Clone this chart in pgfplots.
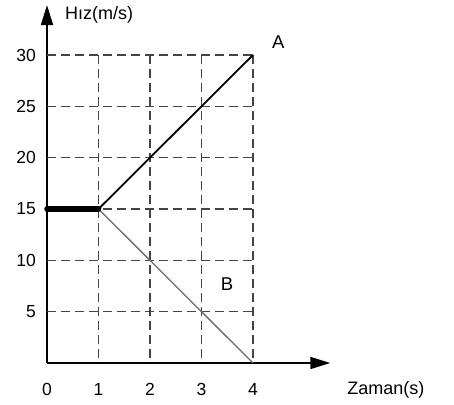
\documentclass[border=0pt]{standalone}
\usepackage{pgfplots}
\pgfplotsset{compat=1.18}
\usepackage{fontspec}
\setmainfont{Liberation Sans}
\usetikzlibrary{arrows.meta}
\definecolor{gridc}{HTML}{444444}
\definecolor{lineb}{HTML}{6A6A6A}
\begin{document}
\begin{tikzpicture}
\begin{axis}[
  at={(0,0)}, anchor=south west,
  scale only axis, width=283.25pt, height=357.9pt,
  xmin=0, xmax=5.5, ymin=0, ymax=34.86,
  clip=false,
  axis lines=left,
  axis line style={line width=1.9pt, -{Triangle[length=20pt,width=12pt]}},
  xtick={0,1,2,3,4}, ytick={5,10,15,20,25,30},
  major tick length=0pt,
  /pgf/number format/assume math mode=true,
  tick label style={font=\fontsize{17.5pt}{20pt}\selectfont, inner sep=0pt},
  xticklabel style={anchor=center, yshift=-26pt},
  yticklabel style={anchor=east, xshift=-11pt},
]
% grid (limited to the data region)
\addplot[gridc, line width=1.3pt, dash pattern=on 9pt off 5pt] coordinates {(0,5) (4,5)};
\addplot[gridc, line width=1.3pt, dash pattern=on 9pt off 5pt] coordinates {(0,10) (4,10)};
\addplot[gridc, line width=1.3pt, dash pattern=on 9pt off 5pt] coordinates {(0,15) (4,15)};
\addplot[gridc, line width=1.3pt, dash pattern=on 9pt off 5pt] coordinates {(0,20) (4,20)};
\addplot[gridc, line width=1.3pt, dash pattern=on 9pt off 5pt] coordinates {(0,25) (4,25)};
\addplot[gridc, line width=1.3pt, dash pattern=on 9pt off 5pt] coordinates {(0,30) (4,30)};
\addplot[gridc, line width=1.3pt, dash pattern=on 9pt off 5pt] coordinates {(1,30) (1,0)};
\addplot[gridc, line width=1.3pt, dash pattern=on 9pt off 5pt] coordinates {(2,30) (2,0)};
\addplot[gridc, line width=1.3pt, dash pattern=on 9pt off 5pt] coordinates {(3,30) (3,0)};
\addplot[gridc, line width=1.3pt, dash pattern=on 9pt off 5pt] coordinates {(4,30) (4,0)};
% series
\addplot[lineb, line width=1.3pt] coordinates {(1,15) (4,0)};
\addplot[black, line width=1.8pt] coordinates {(1,15) (4,30)};
\addplot[black, line width=5.5pt, line cap=round] coordinates {(0,15) (1,15)};
% labels
\node[font=\fontsize{18pt}{20pt}\selectfont, anchor=west, inner sep=0pt] at (axis cs:0.35,33.9) {Hız(m/s)};
\node[font=\fontsize{18pt}{20pt}\selectfont, anchor=west, inner sep=0pt] at (axis cs:5.83,-2.63) {Zaman(s)};
\node[font=\fontsize{18.5pt}{20pt}\selectfont, inner sep=0pt] at (axis cs:4.49,31.26) {A};
\node[font=\fontsize{18.5pt}{20pt}\selectfont, inner sep=0pt] at (axis cs:3.495,7.69) {B};
\end{axis}
\pgfresetboundingbox
\path[use as bounding box] (-47pt,-41pt) rectangle (407pt,363pt);
\end{tikzpicture}
\end{document}
